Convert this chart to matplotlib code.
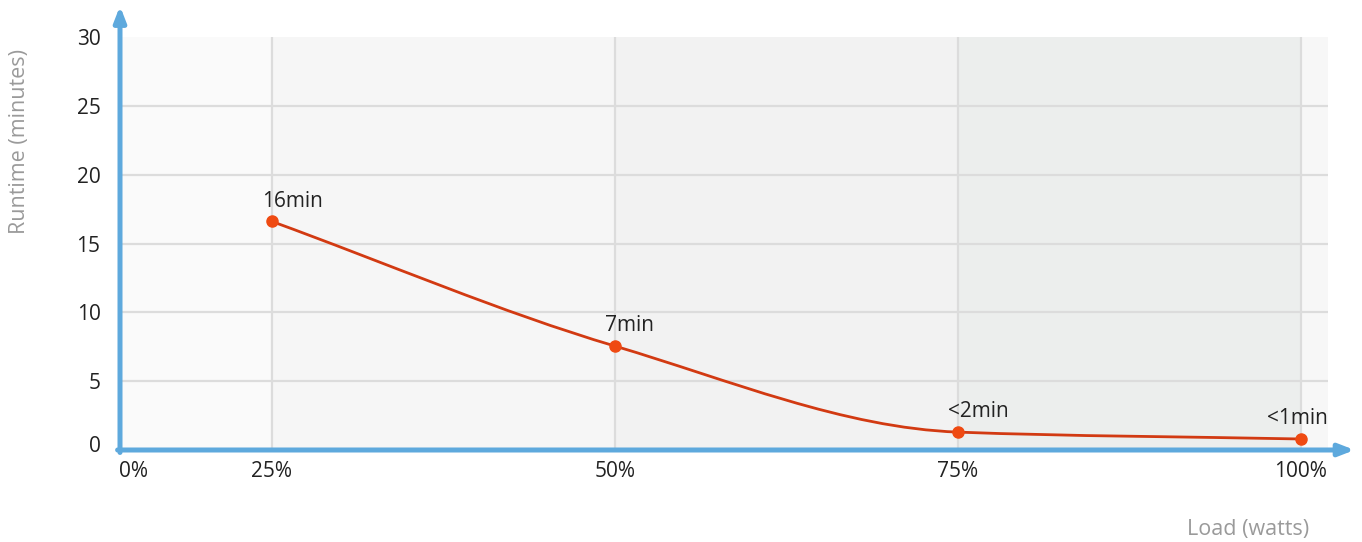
import numpy as np
import matplotlib
matplotlib.use('Agg')
import matplotlib.pyplot as plt
from matplotlib.path import Path
from matplotlib.patches import PathPatch
from matplotlib.transforms import ScaledTranslation

plt.rcParams['font.family'] = ['Open Sans', 'DejaVu Sans']

# ---------------- data ----------------
load_labels = ["25%", "50%", "75%", "100%"]
runtime_min = [16.6, 7.55, 1.3, 0.8]
point_labels = ["16min", "7min", "<2min", "<1min"]
y_ticks = [0, 5, 10, 15, 20, 25, 30]

band_colors = ["#fafafa", "#f6f6f6", "#f2f2f2", "#eceeed", "#f7f7f7"]
axis_blue = "#5ea9dd"
line_color = "#d23a12"
dot_color = "#ef4a12"
fs = 15

x = np.arange(1, len(load_labels) + 1)
x_left = 0.557
x_right = 4.079

fig = plt.figure(figsize=(13.62, 5.42), dpi=100)
ax = fig.add_axes([120 / 1362, 1 - 450 / 542, (1328 - 120) / 1362, (450 - 37) / 542])
ax.set_xlim(x_left, x_right)
ax.set_ylim(0, 30)

# background bands
edges = [x_left] + list(x) + [x_right]
for i in range(len(edges) - 1):
    ax.axvspan(edges[i], edges[i + 1], color=band_colors[i], lw=0, zorder=0)

# grid
for yv in y_ticks[1:-1]:
    ax.axhline(yv, color="#dcdcdc", lw=1.6, zorder=1)
for xv in x:
    ax.axvline(xv, color="#dcdcdc", lw=1.6, zorder=1)

# smooth line through points (cubic bezier segments, monotone tangents)
xs = np.array(x, dtype=float)
ys = np.array(runtime_min)
d = np.diff(ys) / np.diff(xs)
m = np.zeros_like(ys)
m[0] = d[0]
m[-1] = d[-1]
for i in range(1, len(ys) - 1):
    if d[i - 1] * d[i] <= 0:
        m[i] = 0
    else:
        m[i] = 2 / (1 / d[i - 1] + 1 / d[i])
verts = [(xs[0], ys[0])]
codes = [Path.MOVETO]
for i in range(len(xs) - 1):
    h = xs[i + 1] - xs[i]
    verts += [(xs[i] + h / 3, ys[i] + m[i] * h / 3),
              (xs[i + 1] - h / 3, ys[i + 1] - m[i + 1] * h / 3),
              (xs[i + 1], ys[i + 1])]
    codes += [Path.CURVE4] * 3
ax.add_patch(PathPatch(Path(verts, codes), fill=False, ec=line_color, lw=2, zorder=3))
ax.plot(xs, ys, "o", color=dot_color, ms=8, zorder=4, clip_on=False)

# point labels: start a little left of the point, last one kept inside the plot
for i, (xi, yi, lab) in enumerate(zip(xs, ys, point_labels)):
    if i == len(xs) - 1:
        ax.annotate(lab, (x_right, yi), xytext=(0, 7), textcoords="offset points",
                    ha="right", va="bottom", fontsize=fs, color="#222222", zorder=5)
    else:
        ax.annotate(lab, (xi, yi), xytext=(-7, 7), textcoords="offset points",
                    ha="left", va="bottom", fontsize=fs, color="#222222", zorder=5)

# ticks
ax.set_xticks(x)
ax.set_xticklabels(load_labels)
ax.set_yticks(y_ticks)
ax.tick_params(length=0, labelsize=fs, labelcolor="#222222")
ax.tick_params(axis="x", pad=8)
ax.tick_params(axis="y", pad=14)
zero_lab = ax.yaxis.get_major_ticks()[0].label1
zero_lab.set_transform(zero_lab.get_transform() + ScaledTranslation(0, 0.06, fig.dpi_scale_trans))
ax.annotate("0%", xy=(0, 0), xycoords="axes fraction", xytext=(-1, -8),
            textcoords="offset points", ha="left", va="top",
            fontsize=fs, color="#222222")

for s in ax.spines.values():
    s.set_visible(False)

# axis arrows
ax.annotate("", xy=(0, 1.075), xytext=(0, -0.006), xycoords="axes fraction",
            arrowprops=dict(arrowstyle="-|>,head_length=0.9,head_width=0.35",
                            color=axis_blue, lw=3.6, shrinkA=0, shrinkB=0), zorder=6)
ax.annotate("", xy=(1.022, 0), xytext=(-0.002, 0), xycoords="axes fraction",
            arrowprops=dict(arrowstyle="-|>,head_length=0.9,head_width=0.35",
                            color=axis_blue, lw=3.6, shrinkA=0, shrinkB=0), zorder=6)

fig.text(20 / 1362, 1 - 142 / 542, "Runtime (minutes)", rotation=90, ha="center", va="center",
         fontsize=15.5, color="#9a9a9a")
fig.text(1248 / 1362, 1 - 530 / 542, "Load (watts)", ha="center", va="center",
         fontsize=15.5, color="#9a9a9a")

fig.savefig("out.png", dpi=100)
